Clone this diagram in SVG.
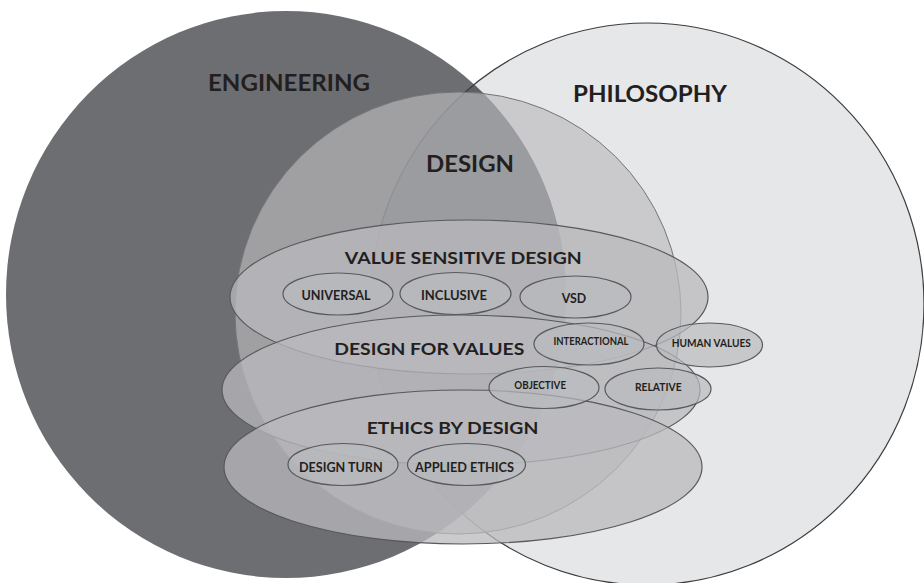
<svg xmlns="http://www.w3.org/2000/svg" width="924" height="583" viewBox="0 0 924 583">
<style>
text{font-family:Lato,"Liberation Sans",Arial,sans-serif;font-weight:700;fill:#231f20;text-anchor:middle}
.big{font-size:22px}
.mid{font-size:17.5px}
.sm{font-size:12.5px}
.xs{font-size:10.5px}
.eng{fill:#6d6e71}
.phil{fill:#e6e7e8}
.philline{fill:none;stroke:#3d3d3f;stroke-width:1.2}
.design{fill:rgb(186,187,190);fill-opacity:0.66;stroke:#747578;stroke-width:1}
.band{fill:rgb(185,186,189);fill-opacity:0.75;stroke:#58595b;stroke-width:1.2}
.sub{fill:rgb(185,186,189);fill-opacity:0.7;stroke:#58595b;stroke-width:1.2}
</style>
<defs>
<clipPath id="philClip"><ellipse cx="647" cy="304" rx="277" ry="281"/></clipPath>
</defs>
<rect width="924" height="583" fill="#ffffff"/>
<g id="philosophy">
<ellipse class="phil" cx="647" cy="304" rx="277" ry="281"/>
</g>
<g id="engineering">
<ellipse class="eng" cx="286" cy="294.5" rx="280" ry="283.5"/>
<ellipse cx="286" cy="294.5" rx="280" ry="283.5" fill="#5f6064" clip-path="url(#philClip)"/>
</g>
<ellipse class="philline" cx="647" cy="304" rx="277" ry="281"/>
<g id="design">
<ellipse class="design" cx="458" cy="313" rx="223" ry="221"/>
</g>
<g id="value-sensitive-design">
<ellipse class="band" cx="469" cy="297" rx="239" ry="77"/>
</g>
<g id="design-for-values">
<ellipse class="band" cx="461" cy="390" rx="239" ry="75"/>
</g>
<g id="ethics-by-design">
<ellipse class="band" cx="463" cy="467" rx="239" ry="77"/>
</g>
<g id="universal"><ellipse class="sub" cx="338" cy="294" rx="55" ry="21"/><text class="sm" x="336" y="300" textLength="69" lengthAdjust="spacingAndGlyphs">UNIVERSAL</text></g>
<g id="inclusive"><ellipse class="sub" cx="455.5" cy="293.5" rx="55.5" ry="21"/><text class="sm" x="454" y="300" textLength="66" lengthAdjust="spacingAndGlyphs">INCLUSIVE</text></g>
<g id="vsd"><ellipse class="sub" cx="575.5" cy="297" rx="55.5" ry="21"/><text class="sm" x="574" y="303.3" textLength="24.5" lengthAdjust="spacingAndGlyphs">VSD</text></g>
<g id="interactional"><ellipse class="sub" cx="589" cy="344" rx="55" ry="21"/><text class="xs" x="591" y="345" textLength="75" lengthAdjust="spacingAndGlyphs">INTERACTIONAL</text></g>
<g id="human-values"><ellipse class="sub" cx="709.5" cy="345" rx="53" ry="22"/><text class="xs" x="711.3" y="347.3" textLength="79" lengthAdjust="spacingAndGlyphs">HUMAN VALUES</text></g>
<g id="objective"><ellipse class="sub" cx="544" cy="387.5" rx="55" ry="21"/><text class="xs" x="540.2" y="389.3" textLength="51.7" lengthAdjust="spacingAndGlyphs">OBJECTIVE</text></g>
<g id="relative"><ellipse class="sub" cx="658" cy="389" rx="53" ry="21"/><text class="xs" x="658.3" y="391.3" textLength="46.7" lengthAdjust="spacingAndGlyphs">RELATIVE</text></g>
<g id="design-turn"><ellipse class="sub" cx="343" cy="464.5" rx="55" ry="21"/><text class="sm" x="340.8" y="471.7" textLength="83.7" lengthAdjust="spacingAndGlyphs">DESIGN TURN</text></g>
<g id="applied-ethics"><ellipse class="sub" cx="466.5" cy="464.5" rx="59" ry="21"/><text class="sm" x="464.5" y="471.7" textLength="99" lengthAdjust="spacingAndGlyphs">APPLIED ETHICS</text></g>
<g id="labels">
<text class="big" x="289" y="90.5" textLength="162" lengthAdjust="spacingAndGlyphs">ENGINEERING</text>
<text class="big" x="650" y="102" textLength="154" lengthAdjust="spacingAndGlyphs">PHILOSOPHY</text>
<text class="big" x="470" y="172" textLength="88" lengthAdjust="spacingAndGlyphs">DESIGN</text>
<text class="mid" x="463.3" y="264" textLength="237" lengthAdjust="spacingAndGlyphs">VALUE SENSITIVE DESIGN</text>
<text class="mid" x="429.3" y="355" textLength="190" lengthAdjust="spacingAndGlyphs">DESIGN FOR VALUES</text>
<text class="mid" x="452.5" y="434" textLength="171.7" lengthAdjust="spacingAndGlyphs">ETHICS BY DESIGN</text>
</g>
<g id="connectors"/>
</svg>
